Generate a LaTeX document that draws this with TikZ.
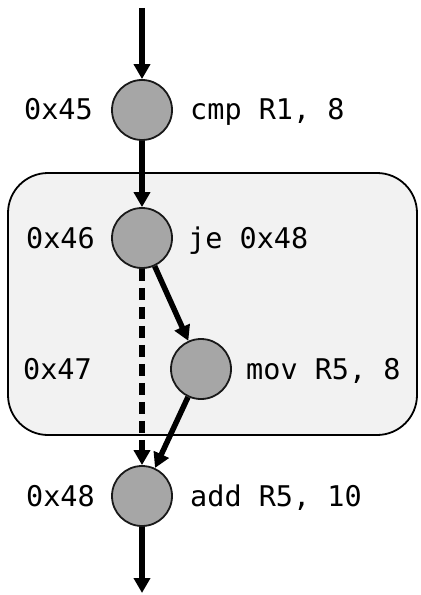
\documentclass[tikz,border=0pt]{standalone}
\usepackage{fontspec}
\setmonofont{DejaVu Sans Mono}
\usetikzlibrary{arrows.meta}
\definecolor{boxfill}{HTML}{F2F2F2}
\definecolor{nodefill}{HTML}{A6A6A6}
\tikzset{
  instr/.style={circle, draw=black!90, line width=1.8bp, fill=nodefill, minimum size=60bp, inner sep=0pt},
  txt/.style={inner sep=0pt, font=\fontsize{28.5bp}{30bp}\selectfont\ttfamily},
  flow/.style={line width=5.5bp, -{Triangle[length=15bp,width=16bp]}},
  dflow/.style={flow, dash pattern=on 12bp off 7bp},
  region/.style={draw=black, line width=1.8bp, fill=boxfill, rounded corners=40bp}
}
\begin{document}
\begin{tikzpicture}[x=1bp,y=-1bp]
\useasboundingbox (0,0) rectangle (420,595);
\path[region] (8,173) rectangle (417,435);
\node[instr] (a45) at (142,110) {};
\node[instr] (a46) at (142,238) {};
\node[instr] (a47) at (201,369) {};
\node[instr] (a48) at (142,496) {};
\node[txt, anchor=base east] (l45) at (93,120) {0x45};
\node[txt, anchor=base west] (t45) at (190,120) {cmp R1, 8};
\node[txt, anchor=base east] (l46) at (95,248) {0x46};
\node[txt, anchor=base west] (t46) at (188,248) {je 0x48};
\node[txt, anchor=base east] (l47) at (92,379) {0x47};
\node[txt, anchor=base west] (t47) at (246,379) {mov R5, 8};
\node[txt, anchor=base east] (l48) at (95,506) {0x48};
\node[txt, anchor=base west] (t48) at (190,506) {add R5, 10};
\coordinate (in) at (142,8);
\coordinate (out) at (142,593);
\draw[flow] (in) -- (a45);
\draw[flow] (a45) -- (a46);
\draw[dflow] (a46) -- (a48);
\draw[flow] (a46) -- (a47);
\draw[flow] (a47) -- (a48);
\draw[flow] (a48) -- (out);
\end{tikzpicture}
\end{document}
